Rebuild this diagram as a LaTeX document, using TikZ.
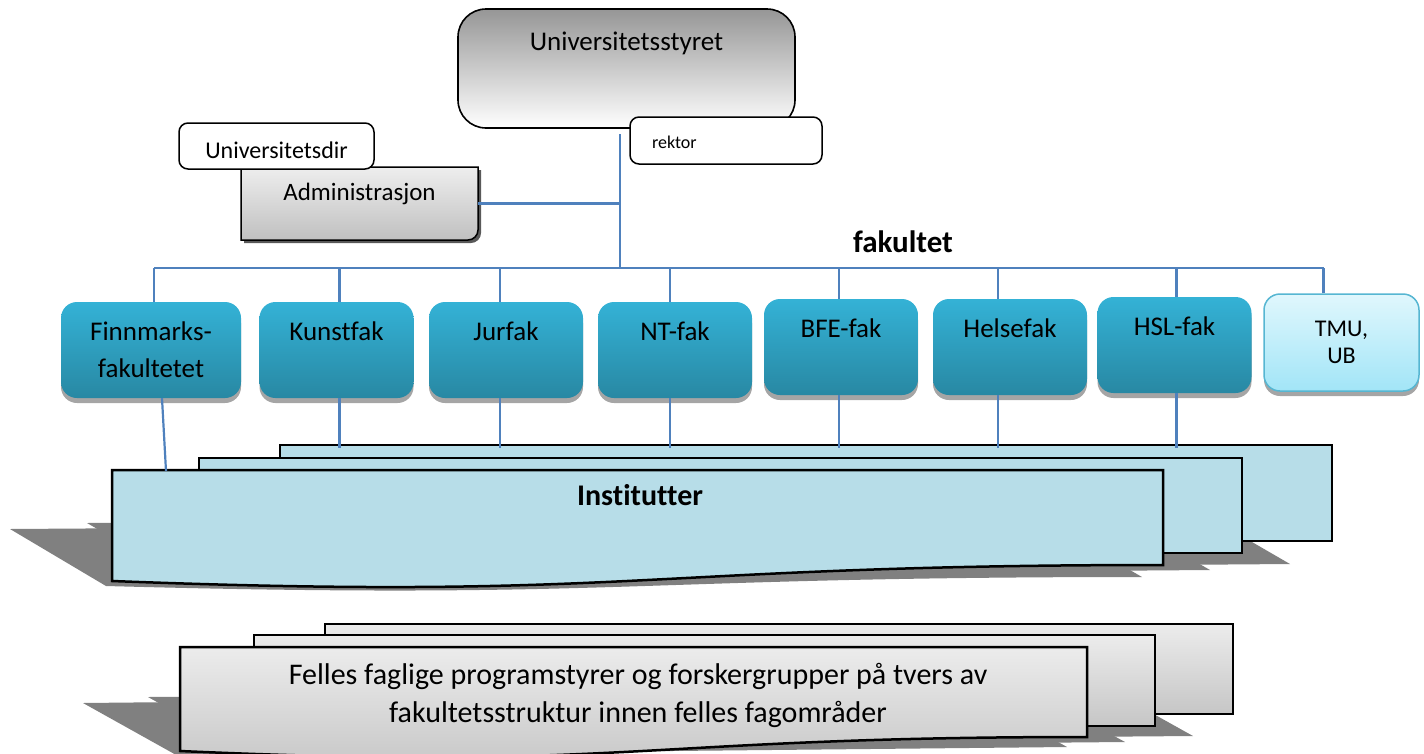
\documentclass[tikz,border=0pt]{standalone}
\usepackage{fontspec}
\setmainfont{Carlito}[Ligatures=NoCommon]
\usetikzlibrary{shadows}
\definecolor{linkblue}{RGB}{79,129,189}
\definecolor{faktop}{RGB}{52,178,214}
\definecolor{fakbot}{RGB}{40,136,163}
\definecolor{fakshadow}{RGB}{165,165,165}
\definecolor{tmutop}{RGB}{224,247,253}
\definecolor{tmubot}{RGB}{162,229,247}
\definecolor{tmuline}{RGB}{86,182,210}
\definecolor{insfill}{RGB}{183,221,232}
\definecolor{pageshadow}{RGB}{128,128,128}
\definecolor{styrtop}{RGB}{150,150,150}
\definecolor{admtop}{RGB}{238,238,238}
\definecolor{admbot}{RGB}{192,192,192}
\definecolor{feltop}{RGB}{236,236,236}
\definecolor{felbot}{RGB}{198,198,198}

\begin{document}
\begin{tikzpicture}[
    x=1pt, y=-1pt,
    conn/.style={draw=linkblue, line width=2.2pt},
    fakbox/.style={rectangle, rounded corners=16pt, minimum width=154pt, inner sep=0pt,
        top color=faktop, bottom color=fakbot, align=center,
        drop shadow={shadow xshift=0pt, shadow yshift=-5pt, fill=fakshadow, opacity=1},
        font=\fontsize{27}{37}\selectfont},
    fak/.style={fakbox, text height=38pt, text depth=58pt},
    tmubox/.style={fakbox, minimum width=155pt, minimum height=97pt, draw=tmuline,
        line width=1.5pt, top color=tmutop, bottom color=tmubot,
        font=\fontsize{24}{27}\selectfont},
    whitebox/.style={rectangle, draw, line width=1.5pt, rounded corners=9pt, fill=white,
        inner sep=0pt},
    styrbox/.style={rectangle, draw, line width=1.6pt, rounded corners=28pt, inner sep=0pt,
        minimum width=337pt, top color=styrtop, bottom color=white},
    inspage/.style={draw=black, line width=2.5pt, fill=insfill},
    felpage/.style={draw=black, line width=2.5pt, top color=feltop, bottom color=felbot},
    pshadow/.style={fill=pageshadow}
]
    \useasboundingbox (0,0) rectangle (1424,753);

    % fellesgrupper
    \fill[pshadow] (230,690) -- (1098,683) -- (1193,736) -- (325,743) -- cycle;
    \fill[pshadow] (148,697) -- (1030,690) -- (1125,742) -- (243,750) -- cycle;
    \fill[pshadow] (83,703) -- (972,694) -- (1067,747) -- (178,756) -- cycle;
    \draw[felpage] (325,624) rectangle (1233,714);
    \draw[felpage] (254,635) rectangle (1155,726);
    \draw[felpage] (180,647) -- (1087,647) -- (1087,737)
        .. controls (633,737) and (633,771) .. (180,751) -- cycle;
    \node[font=\fontsize{30}{38}\selectfont, align=center] (felles) at (638,695)
        {Felles faglige programstyrer og forskergrupper på tvers av\\fakultetsstruktur innen felles fagområder};

    % institutter
    \fill[pshadow] (180,517) -- (1195,509) -- (1290,564) -- (275,572) -- cycle;
    \fill[pshadow] (87,523) -- (1115,515) -- (1210,570) -- (182,578) -- cycle;
    \fill[pshadow] (10,529) -- (1047,522) -- (1142,577)
        .. controls (620,577) and (620,600) .. (106,586) -- cycle;
    \draw[inspage] (280,445) rectangle (1332,541);
    \draw[inspage] (199,458) rectangle (1242,553);
    \draw[inspage] (112,470) -- (1163,470) -- (1163,565)
        .. controls (637,565) and (637,601) .. (112,581) -- cycle;
    \node[font=\fontsize{30}{36}\selectfont\bfseries, anchor=base] (inst) at (640,505) {Institutter};

    % ledelse
    \node[styrbox, text height=41pt, text depth=78pt, font=\fontsize{27}{33}\selectfont]
        (styret) at (626.5,68.5) {Universitetsstyret};
    \node[whitebox, minimum width=192pt, text width=148pt, inner xsep=22pt, align=left,
        text height=31pt, text depth=16pt, font=\fontsize{18}{22}\selectfont]
        (rektor) at (726,140.5) {rektor};
    \path[draw, line width=1.5pt, top color=admtop, bottom color=admbot,
        drop shadow={shadow xshift=3pt, shadow yshift=-3pt, fill=black!65, opacity=1}]
        (241,167) -- (478,167) [rounded corners=10pt] -- (478,240) [sharp corners] -- (241,240) -- cycle;
    \node[minimum width=237pt, inner sep=0pt, text height=33pt, text depth=40pt,
        font=\fontsize{25}{30}\selectfont] (admin) at (359.5,203.5) {Administrasjon};
    \node[whitebox, minimum width=195pt, text height=35pt, text depth=11pt,
        font=\fontsize{24}{29}\selectfont] (unidir) at (276.5,146) {Universitetsdir};

    \node[font=\fontsize{31}{37}\selectfont\bfseries, anchor=base] (fakultet) at (903,252) {fakultet};

    % fakulteter
    \node[fakbox, minimum width=180pt, minimum height=96pt] (finn) at (151,350) {Finnmarks-\\fakultetet};
    \node[fak] (kunst) at (336.5,350) {Kunstfak};
    \node[fak] (jur) at (506,350) {Jurfak};
    \node[fak] (nt) at (675,350) {NT-fak};
    \node[fak] (bfe) at (841,347) {BFE-fak};
    \node[fak] (helse) at (1010,347) {Helsefak};
    \node[fak] (hsl) at (1174.5,345) {HSL-fak};
    \node[tmubox] (tmu) at (1341.5,342.5) {TMU,\\UB};

    % linjer
    \coordinate (bus) at (620,268);
    \coordinate (trunktop) at (620,134);
    \coordinate (insttop) at (280,448);
    \coordinate (finnend) at (166,471);

    \draw[conn] (trunktop) -- (bus);
    \draw[conn] (admin.east) -- (admin.east -| bus);
    \draw[conn] ([xshift=3pt]finn.north |- bus) -- ([xshift=-18pt]tmu.north |- bus);
    \foreach \f/\dx in {finn/3,kunst/3,jur/-6,nt/-5,bfe/-2,helse/-12,hsl/2,tmu/-18}
        \draw[conn] ([xshift=\dx pt]\f.north) -- ([xshift=\dx pt]\f.north |- bus);
    \foreach \f/\dx in {kunst/3,jur/-6,nt/-5,bfe/-2,helse/-12,hsl/2}
        \draw[conn] ([xshift=\dx pt]\f.south) -- ([xshift=\dx pt]\f.south |- insttop);
    \draw[conn] ([xshift=11pt]finn.south) -- (finnend);
\end{tikzpicture}
\end{document}
